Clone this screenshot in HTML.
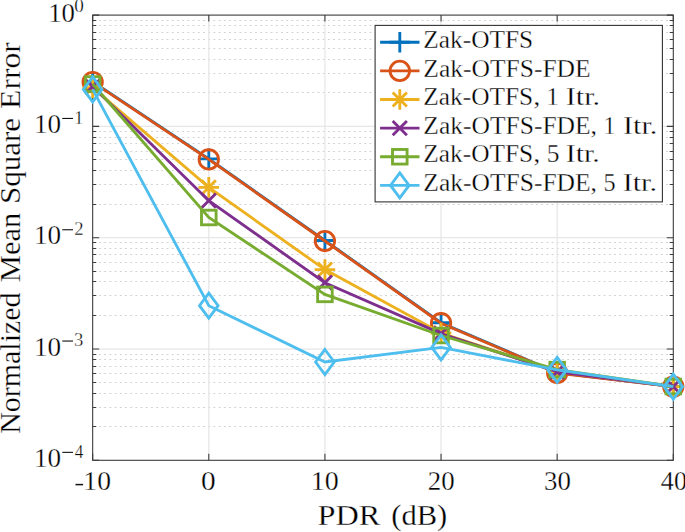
<!DOCTYPE html>
<html><head><meta charset="utf-8"><style>
html,body{margin:0;padding:0;background:#fff;width:685px;height:532px;overflow:hidden}
svg{display:block}
text{font-family:"Liberation Serif",serif;fill:#000;stroke:#fff;stroke-width:0.3px;paint-order:fill stroke}
</style></head><body>
<svg width="685" height="532" viewBox="0 0 685 532">
<rect width="685" height="532" fill="#fff"/>

<path d="M92.67 92.50H673.30M92.67 73.50H673.30M92.67 59.50H673.30M92.67 48.50H673.30M92.67 39.50H673.30M92.67 32.50H673.30M92.67 25.50H673.30M92.67 20.50H673.30M92.67 204.50H673.30M92.67 184.50H673.30M92.67 170.50H673.30M92.67 159.50H673.30M92.67 151.50H673.30M92.67 143.50H673.30M92.67 137.50H673.30M92.67 131.50H673.30M92.67 315.50H673.30M92.67 295.50H673.30M92.67 281.50H673.30M92.67 271.50H673.30M92.67 262.50H673.30M92.67 254.50H673.30M92.67 248.50H673.30M92.67 242.50H673.30M92.67 426.50H673.30M92.67 407.50H673.30M92.67 393.50H673.30M92.67 382.50H673.30M92.67 373.50H673.30M92.67 366.50H673.30M92.67 359.50H673.30M92.67 354.50H673.30" stroke="#d0d0d0" stroke-width="1.1" stroke-dasharray="1.8 3.403" stroke-dashoffset="4.073" fill="none"/>
<path d="M92.67 126.40H673.30M92.67 237.70H673.30M92.67 349.00H673.30M208.80 15.10V460.30M324.92 15.10V460.30M441.05 15.10V460.30M557.17 15.10V460.30" stroke="#e6e6e6" stroke-width="1.25" fill="none"/>
<path d="M92.67 460.30V453.80M92.67 15.10V21.60M208.80 460.30V453.80M208.80 15.10V21.60M324.92 460.30V453.80M324.92 15.10V21.60M441.05 460.30V453.80M441.05 15.10V21.60M557.17 460.30V453.80M557.17 15.10V21.60M673.30 460.30V453.80M673.30 15.10V21.60M92.67 15.10H99.17M673.30 15.10H666.80M92.67 126.40H99.17M673.30 126.40H666.80M92.67 237.70H99.17M673.30 237.70H666.80M92.67 349.00H99.17M673.30 349.00H666.80M92.67 460.30H99.17M673.30 460.30H666.80M92.67 92.50H96.27M673.30 92.50H669.70M92.67 73.50H96.27M673.30 73.50H669.70M92.67 59.50H96.27M673.30 59.50H669.70M92.67 48.50H96.27M673.30 48.50H669.70M92.67 39.50H96.27M673.30 39.50H669.70M92.67 32.50H96.27M673.30 32.50H669.70M92.67 25.50H96.27M673.30 25.50H669.70M92.67 20.50H96.27M673.30 20.50H669.70M92.67 204.50H96.27M673.30 204.50H669.70M92.67 184.50H96.27M673.30 184.50H669.70M92.67 170.50H96.27M673.30 170.50H669.70M92.67 159.50H96.27M673.30 159.50H669.70M92.67 151.50H96.27M673.30 151.50H669.70M92.67 143.50H96.27M673.30 143.50H669.70M92.67 137.50H96.27M673.30 137.50H669.70M92.67 131.50H96.27M673.30 131.50H669.70M92.67 315.50H96.27M673.30 315.50H669.70M92.67 295.50H96.27M673.30 295.50H669.70M92.67 281.50H96.27M673.30 281.50H669.70M92.67 271.50H96.27M673.30 271.50H669.70M92.67 262.50H96.27M673.30 262.50H669.70M92.67 254.50H96.27M673.30 254.50H669.70M92.67 248.50H96.27M673.30 248.50H669.70M92.67 242.50H96.27M673.30 242.50H669.70M92.67 426.50H96.27M673.30 426.50H669.70M92.67 407.50H96.27M673.30 407.50H669.70M92.67 393.50H96.27M673.30 393.50H669.70M92.67 382.50H96.27M673.30 382.50H669.70M92.67 373.50H96.27M673.30 373.50H669.70M92.67 366.50H96.27M673.30 366.50H669.70M92.67 359.50H96.27M673.30 359.50H669.70M92.67 354.50H96.27M673.30 354.50H669.70" stroke="#3c3c3c" stroke-width="1.1" fill="none"/>
<rect x="92.67" y="15.10" width="580.63" height="445.20" stroke="#3c3c3c" stroke-width="1.1" fill="none"/>
<g fill="none" stroke-width="2.85" stroke-linejoin="miter" stroke-linecap="butt">
<polyline points="92.67,81.60 208.80,158.90 324.92,240.50 441.05,322.70 557.17,372.70 673.30,386.60" stroke="#0072BD"/>
<path d="M82.37 81.60H102.97M92.67 71.30V91.90" stroke="#0072BD"/>
<path d="M198.50 158.90H219.10M208.80 148.60V169.20" stroke="#0072BD"/>
<path d="M314.62 240.50H335.22M324.92 230.20V250.80" stroke="#0072BD"/>
<path d="M430.75 322.70H451.35M441.05 312.40V333.00" stroke="#0072BD"/>
<path d="M546.87 372.70H567.47M557.17 362.40V383.00" stroke="#0072BD"/>
<path d="M663.00 386.60H683.60M673.30 376.30V396.90" stroke="#0072BD"/>
<polyline points="92.67,82.10 208.80,159.40 324.92,241.00 441.05,323.20 557.17,373.00 673.30,386.60" stroke="#D95319"/>
<circle cx="92.67" cy="82.10" r="9.7" stroke="#D95319"/>
<circle cx="208.80" cy="159.40" r="9.7" stroke="#D95319"/>
<circle cx="324.92" cy="241.00" r="9.7" stroke="#D95319"/>
<circle cx="441.05" cy="323.20" r="9.7" stroke="#D95319"/>
<circle cx="557.17" cy="373.00" r="9.7" stroke="#D95319"/>
<circle cx="673.30" cy="386.60" r="9.7" stroke="#D95319"/>
<polyline points="92.67,87.60 208.80,187.40 324.92,269.60 441.05,333.00 557.17,371.50 673.30,386.60" stroke="#EDB120"/>
<path d="M82.37 87.60H102.97M92.67 77.30V97.90M85.57 80.50L99.77 94.70M85.57 94.70L99.77 80.50" stroke="#EDB120"/>
<path d="M198.50 187.40H219.10M208.80 177.10V197.70M201.70 180.30L215.90 194.50M201.70 194.50L215.90 180.30" stroke="#EDB120"/>
<path d="M314.62 269.60H335.22M324.92 259.30V279.90M317.82 262.50L332.02 276.70M317.82 276.70L332.02 262.50" stroke="#EDB120"/>
<path d="M430.75 333.00H451.35M441.05 322.70V343.30M433.95 325.90L448.15 340.10M433.95 340.10L448.15 325.90" stroke="#EDB120"/>
<path d="M546.87 371.50H567.47M557.17 361.20V381.80M550.07 364.40L564.27 378.60M550.07 378.60L564.27 364.40" stroke="#EDB120"/>
<path d="M663.00 386.60H683.60M673.30 376.30V396.90M666.20 379.50L680.40 393.70M666.20 393.70L680.40 379.50" stroke="#EDB120"/>
<polyline points="92.67,86.50 208.80,200.70 324.92,282.70 441.05,333.60 557.17,371.80 673.30,386.60" stroke="#7E2F8E"/>
<path d="M85.57 79.40L99.77 93.60M85.57 93.60L99.77 79.40" stroke="#7E2F8E"/>
<path d="M201.70 193.60L215.90 207.80M201.70 207.80L215.90 193.60" stroke="#7E2F8E"/>
<path d="M317.82 275.60L332.02 289.80M317.82 289.80L332.02 275.60" stroke="#7E2F8E"/>
<path d="M433.95 326.50L448.15 340.70M433.95 340.70L448.15 326.50" stroke="#7E2F8E"/>
<path d="M550.07 364.70L564.27 378.90M550.07 378.90L564.27 364.70" stroke="#7E2F8E"/>
<path d="M666.20 379.50L680.40 393.70M666.20 393.70L680.40 379.50" stroke="#7E2F8E"/>
<polyline points="92.67,84.00 208.80,217.50 324.92,294.40 441.05,335.50 557.17,369.60 673.30,386.50" stroke="#77AC30"/>
<rect x="85.37" y="76.70" width="14.60" height="14.60" stroke="#77AC30"/>
<rect x="201.50" y="210.20" width="14.60" height="14.60" stroke="#77AC30"/>
<rect x="317.62" y="287.10" width="14.60" height="14.60" stroke="#77AC30"/>
<rect x="433.75" y="328.20" width="14.60" height="14.60" stroke="#77AC30"/>
<rect x="549.87" y="362.30" width="14.60" height="14.60" stroke="#77AC30"/>
<rect x="666.00" y="379.20" width="14.60" height="14.60" stroke="#77AC30"/>
<polyline points="92.67,89.40 208.80,305.70 324.92,362.00 441.05,347.40 557.17,369.90 673.30,386.70" stroke="#4DBEEE"/>
<path d="M92.67 76.90L101.97 89.40L92.67 101.90L83.37 89.40Z" stroke="#4DBEEE"/>
<path d="M208.80 293.20L218.10 305.70L208.80 318.20L199.50 305.70Z" stroke="#4DBEEE"/>
<path d="M324.92 349.50L334.22 362.00L324.92 374.50L315.62 362.00Z" stroke="#4DBEEE"/>
<path d="M441.05 334.90L450.35 347.40L441.05 359.90L431.75 347.40Z" stroke="#4DBEEE"/>
<path d="M557.17 357.40L566.47 369.90L557.17 382.40L547.87 369.90Z" stroke="#4DBEEE"/>
<path d="M673.30 374.20L682.60 386.70L673.30 399.20L664.00 386.70Z" stroke="#4DBEEE"/>
</g>
<rect x="375.1" y="25.4" width="287.30" height="176.50" fill="#fff" stroke="#333" stroke-width="1.1"/>
<g fill="none" stroke-width="2.85">
<path d="M380.1 42.25H419.5" stroke="#0072BD"/>
<path d="M389.50 42.25H410.10M399.80 31.95V52.55" stroke="#0072BD"/>
<path d="M380.1 70.88H419.5" stroke="#D95319"/>
<circle cx="399.80" cy="70.88" r="9.7" stroke="#D95319"/>
<path d="M380.1 99.50999999999999H419.5" stroke="#EDB120"/>
<path d="M389.50 99.51H410.10M399.80 89.21V109.81M392.70 92.41L406.90 106.61M392.70 106.61L406.90 92.41" stroke="#EDB120"/>
<path d="M380.1 128.14H419.5" stroke="#7E2F8E"/>
<path d="M392.70 121.04L406.90 135.24M392.70 135.24L406.90 121.04" stroke="#7E2F8E"/>
<path d="M380.1 156.76999999999998H419.5" stroke="#77AC30"/>
<rect x="392.50" y="149.47" width="14.60" height="14.60" stroke="#77AC30"/>
<path d="M380.1 185.4H419.5" stroke="#4DBEEE"/>
<path d="M399.80 172.90L409.10 185.40L399.80 197.90L390.50 185.40Z" stroke="#4DBEEE"/>
</g>
<text transform="translate(423.31 48.00) scale(1.0313 1)" font-size="24.6">Zak-OTFS</text>
<text transform="translate(423.30 76.60) scale(1.0381 1)" font-size="24.6">Zak-OTFS-FDE</text>
<text transform="translate(423.31 105.20) scale(1.0313 1)" font-size="24.6">Zak-OTFS</text>
<text transform="translate(533.51 105.20) scale(1.0857 1)" font-size="24.6">,</text>
<text transform="translate(546.58 105.20) scale(0.9882 1)" font-size="24.6">1</text>
<text transform="translate(565.77 105.20) scale(1.2275 1)" font-size="24.6">Itr.</text>
<text transform="translate(423.30 133.80) scale(1.0381 1)" font-size="24.6">Zak-OTFS-FDE</text>
<text transform="translate(590.54 133.80) scale(1.0571 1)" font-size="24.6">,</text>
<text transform="translate(603.81 133.80) scale(0.9294 1)" font-size="24.6">1</text>
<text transform="translate(622.97 133.80) scale(1.2275 1)" font-size="24.6">Itr.</text>
<text transform="translate(423.31 162.40) scale(1.0313 1)" font-size="24.6">Zak-OTFS</text>
<text transform="translate(533.51 162.40) scale(1.0857 1)" font-size="24.6">,</text>
<text transform="translate(546.65 162.40) scale(1.0359 1)" font-size="24.6">5</text>
<text transform="translate(565.78 162.40) scale(1.2157 1)" font-size="24.6">Itr.</text>
<text transform="translate(423.30 191.00) scale(1.0381 1)" font-size="24.6">Zak-OTFS-FDE</text>
<text transform="translate(590.47 191.00) scale(1.0286 1)" font-size="24.6">,</text>
<text transform="translate(603.52 191.00) scale(0.9846 1)" font-size="24.6">5</text>
<text transform="translate(622.67 191.00) scale(1.2275 1)" font-size="24.6">Itr.</text>
<text transform="translate(83.37 490.40) scale(1.0366 1)" font-size="26.6">10</text>
<text transform="translate(201.00 490.40) scale(1.1022 1)" font-size="26.6">0</text>
<text transform="translate(310.73 490.40) scale(1.0538 1)" font-size="26.6">10</text>
<text transform="translate(427.84 490.40) scale(1.0103 1)" font-size="26.6">20</text>
<text transform="translate(543.96 490.40) scale(1.0103 1)" font-size="26.6">30</text>
<text transform="translate(660.86 490.40) scale(0.9800 1)" font-size="26.6">40</text>
<rect x="75.5" y="483.85" width="7.6" height="1.5" fill="#111"/>
<text transform="translate(48.24 21.65) scale(1.0065 1)" font-size="26.6">10</text>
<text transform="translate(74.34 12.35) scale(1.0125 1)" font-size="19.0">0</text>
<text transform="translate(33.91 132.95) scale(1.0194 1)" font-size="26.6">10</text>
<text transform="translate(74.33 123.85) scale(0.9538 1)" font-size="19.0">1</text>
<rect x="62.3" y="117.90" width="10.7" height="1.1" fill="#111"/>
<text transform="translate(33.91 244.25) scale(1.0194 1)" font-size="26.6">10</text>
<text transform="translate(74.36 235.15) scale(0.9806 1)" font-size="19.0">2</text>
<rect x="62.3" y="229.20" width="10.7" height="1.1" fill="#111"/>
<text transform="translate(33.91 355.55) scale(1.0194 1)" font-size="26.6">10</text>
<text transform="translate(74.12 346.45) scale(0.9806 1)" font-size="19.0">3</text>
<rect x="62.3" y="340.50" width="10.7" height="1.1" fill="#111"/>
<text transform="translate(33.91 466.85) scale(1.0194 1)" font-size="26.6">10</text>
<text transform="translate(74.78 457.75) scale(0.9000 1)" font-size="19.0">4</text>
<rect x="62.3" y="451.80" width="10.7" height="1.1" fill="#111"/>
<text transform="translate(317.49 524.70) scale(1.0765 1)" font-size="30.0">PDR</text>
<text transform="translate(391.23 524.70) scale(1.0190 1)" font-size="30.0">(dB)</text>
<text transform="translate(20.3 433.85) rotate(-90) scale(0.9993 1)" font-size="30.0">Normalized</text>
<text transform="translate(20.3 282.16) rotate(-90) scale(1.0164 1)" font-size="30.0">Mean</text>
<text transform="translate(20.3 204.07) rotate(-90) scale(1.0355 1)" font-size="30.0">Square</text>
<text transform="translate(20.3 108.99) rotate(-90) scale(1.0570 1)" font-size="30.0">Error</text>
</svg></body></html>
